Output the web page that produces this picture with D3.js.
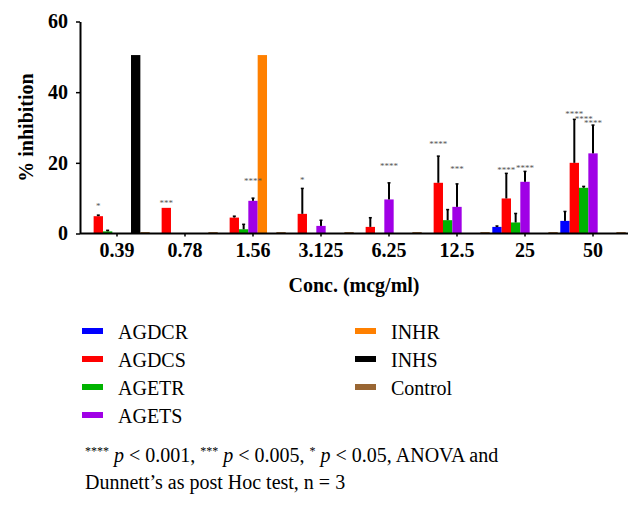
<!DOCTYPE html>
<html><head><meta charset="utf-8">
<script src="https://cdn.jsdelivr.net/npm/d3@7"></script>
<style>body{margin:0;background:#fff}svg{display:block}</style>
</head><body>
<svg id="c" width="643" height="512"></svg>
<script>
// ---- data ----
const categories = ["0.39","0.78","1.56","3.125","6.25","12.5","25","50"];
const seriesNames = ["AGDCR","AGDCS","AGETR","AGETS","INHR","INHS","Control"];
const seriesColors = ["#0000ff","#ff0000","#00b300","#a000e6","#ff8000","#000000","#996633"];
const AGDCR   = [0,   0,    0,    0,    0,    0,     1.87, 3.57];
const AGDCS   = [4.9, 7.26, 4.5,  5.56, 1.87, 14.35, 9.92, 20.0];
const AGETR   = [0.6, 0,    1.2,  0,    0,    3.77,  3.12, 12.93];
const AGETS   = [0,   0,    9.25, 2.15, 9.64, 7.54,  14.63,22.68];
const INHR    = [0,   0,    50.5, 0,    0,    0,     0,    0];
const INHS    = [50.5,0,    0,    0,    0,    0,     0,    0];
const Control = [0.4, 0.4,  0.4,  0.4,  0.4,  0.4,   0.4,  0.4];
const AGDCR_err = [0,   0, 0,    0,   0,   0,    0.25, 2.67];
const AGDCS_err = [0.3, 0, 0.4,  7.2, 2.6, 7.55, 7.1,  12.3];
const AGETR_err = [0.3, 0, 1.4,  0,   0,   3.0,  2.55, 0.4];
const AGETS_err = [0,   0, 0.75, 1.6, 4.7, 6.5,  2.95, 8.0];
const yTicks = [0, 20, 40, 60];
// significance marks: category, series, text, level (in % inhibition units)
const sigCategory = ["0.39","0.78","1.56","3.125","6.25","12.5","12.5","25","25","50","50","50"];
const sigSeries   = ["AGDCS","AGDCS","AGETS","AGDCS","AGETS","AGDCS","AGETS","AGDCS","AGETS","AGDCS","AGETR","AGETS"];
const sigText     = ["*","***","****","*","****","****","***","****","****","****","****","****"];
const sigLevel    = [8.3, 9.2, 15.3, 15.6, 19.6, 26.0, 18.9, 18.4, 19.2, 34.5, 33.1, 31.8];

const values = [AGDCR, AGDCS, AGETR, AGETS, INHR, INHS, Control];
const errs = [AGDCR_err, AGDCS_err, AGETR_err, AGETS_err, null, null, null];

// ---- layout ----
const svg = d3.select("#c");
const mLeft = 80, mRight = 630, mTop = 21.5, mBottom = 233.5;
const serif = "'Liberation Serif','DejaVu Serif',serif";

const x0 = d3.scaleBand().domain(categories).range([mLeft, mRight]).paddingInner(0.038).paddingOuter(0.063);
const x1 = d3.scaleBand().domain(seriesNames).range([0, x0.bandwidth()]).padding(0);
const y = d3.scaleLinear().domain([0, 60]).range([mBottom, mTop]);
const color = d3.scaleOrdinal().domain(seriesNames).range(seriesColors);

const rows = [];
seriesNames.forEach((s, si) => {
  categories.forEach((c, ci) => {
    rows.push({s, c, v: values[si][ci], e: errs[si] ? errs[si][ci] : 0});
  });
});

// bars
svg.append("g").selectAll("rect").data(rows.filter(d => d.v > 0)).join("rect")
  .attr("x", d => x0(d.c) + x1(d.s))
  .attr("width", x1.bandwidth())
  .attr("y", d => y(d.v))
  .attr("height", d => y(0) - y(d.v))
  .attr("fill", d => color(d.s));

// error bars (upper only)
const eb = svg.append("g").attr("stroke", "#000");
eb.selectAll("line.v").data(rows.filter(d => d.e > 0)).join("line").attr("class","v")
  .attr("x1", d => x0(d.c) + x1(d.s) + x1.bandwidth()/2)
  .attr("x2", d => x0(d.c) + x1(d.s) + x1.bandwidth()/2)
  .attr("y1", d => y(d.v))
  .attr("y2", d => y(d.v + d.e))
  .attr("stroke-width", 2);
eb.selectAll("line.cap").data(rows.filter(d => d.e > 0)).join("line").attr("class","cap")
  .attr("x1", d => x0(d.c) + x1(d.s) + x1.bandwidth()/2 - 1.5)
  .attr("x2", d => x0(d.c) + x1(d.s) + x1.bandwidth()/2 + 1.5)
  .attr("y1", d => y(d.v + d.e))
  .attr("y2", d => y(d.v + d.e))
  .attr("stroke-width", 1.5);

// significance marks
svg.append("g").selectAll("text").data(sigText.map((t, i) => ({t, c: sigCategory[i], s: sigSeries[i], l: sigLevel[i]}))).join("text")
  .attr("x", d => x0(d.c) + x1(d.s) + x1.bandwidth()/2)
  .attr("y", d => y(d.l) + 5)
  .attr("text-anchor", "middle")
  .attr("font-family", serif)
  .attr("font-size", 9)
  .attr("fill", "#555")
  .text(d => d.t);

// axes
const yAxis = svg.append("g").attr("transform", `translate(${mLeft},0)`)
  .call(d3.axisLeft(y).tickValues(yTicks).tickSize(4).tickPadding(8).tickSizeOuter(0));
const xAxis = svg.append("g").attr("transform", `translate(0,${mBottom})`)
  .call(d3.axisBottom(x0).tickSize(3).tickPadding(6).tickSizeOuter(0));
[yAxis, xAxis].forEach(g => {
  g.select(".domain").attr("stroke", "#000").attr("stroke-width", 2);
  g.selectAll(".tick line").attr("stroke", "#000").attr("stroke-width", 1.5);
  g.selectAll(".tick text").attr("font-family", serif).attr("font-weight", "bold")
    .attr("font-size", 20).attr("fill", "#000");
});
xAxis.select(".domain").attr("d", `M${mLeft},0H${mRight - 2}`);

// axis titles
svg.append("text").attr("x", (mLeft + mRight) / 2 - 1).attr("y", 292)
  .attr("text-anchor", "middle").attr("font-family", serif).attr("font-weight", "bold")
  .attr("font-size", 20).text("Conc. (mcg/ml)");
svg.append("text").attr("transform", `translate(33,${(mTop + mBottom) / 2}) rotate(-90)`)
  .attr("text-anchor", "middle").attr("font-family", serif).attr("font-weight", "bold")
  .attr("font-size", 20).text("% inhibition");

// legend
const legCol1 = ["AGDCR","AGDCS","AGETR","AGETS"];
const legCol2 = ["INHR","INHS","Control"];
const leg = svg.append("g");
[[legCol1, 82], [legCol2, 355]].forEach(([names, lx]) => {
  names.forEach((n, i) => {
    const cy = 331 + i * 28;
    leg.append("rect").attr("x", lx).attr("y", cy - 3).attr("width", 21).attr("height", 6).attr("fill", color(n));
    leg.append("text").attr("x", lx + 36).attr("y", cy + 8).attr("font-family", serif)
      .attr("font-size", 20).attr("fill", "#000").text(n);
  });
});

// footnote
const fn = svg.append("text").attr("x", 85).attr("y", 462).attr("font-family", serif)
  .attr("font-size", 20).attr("fill", "#000");
const parts = [["****", true], [" ", false], ["p", "i"], [" < 0.001, ", false], ["***", true], [" ", false], ["p", "i"],
  [" < 0.005, ", false], ["*", true], [" ", false], ["p", "i"], [" < 0.05, ANOVA and", false]];
parts.forEach(([t, k]) => {
  const ts = fn.append("tspan").text(t);
  if (k === true) ts.attr("font-size", 12).attr("dy", -7);
  if (k === "i") ts.attr("font-style", "italic");
  if (k !== true && t === " ") ts.attr("dy", 7);
});
svg.append("text").attr("x", 85).attr("y", 489).attr("font-family", serif)
  .attr("font-size", 20).attr("fill", "#000").text("Dunnett\u2019s as post Hoc test, n = 3");
</script>
</body></html>
